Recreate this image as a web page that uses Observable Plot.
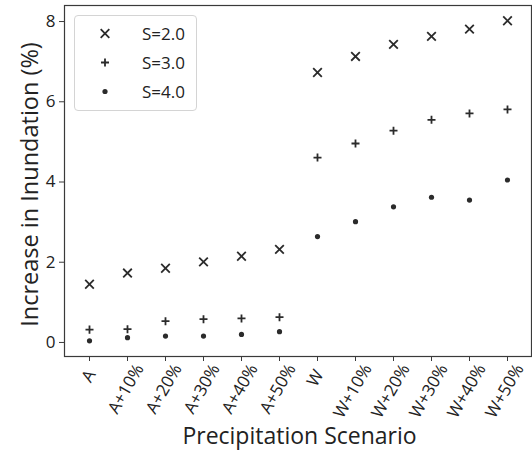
<!DOCTYPE html>
<html>
<head>
<meta charset="utf-8">
<script src="https://cdn.jsdelivr.net/npm/d3@7"></script>
<script src="https://cdn.jsdelivr.net/npm/@observablehq/plot@0.6"></script>
<style>
  html, body { margin: 0; padding: 0; background: #fff; }
  body { font-family: "Open Sans", sans-serif; }
  #wrap { position: relative; width: 532px; height: 456px; }
  #legend {
    position: absolute; left: 74px; top: 15px; width: 121px; height: 91px;
    border: 1px solid #d4d4d4; border-radius: 4px; background: rgba(255,255,255,0.85);
    padding-top: 3px; box-sizing: content-box;
  }
  #legend .row { display: flex; align-items: center; height: 29px; }
  #legend .row span { margin-left: 7px; font-size: 17px; color: #222; }
</style>
</head>
<body>
<div id="wrap"></div>
<script>
const scenarios = ["A","A+10%","A+20%","A+30%","A+40%","A+50%","W","W+10%","W+20%","W+30%","W+40%","W+50%"];
const seriesNames = ["S=2.0","S=3.0","S=4.0"];
const s2 = [1.45,1.73,1.85,2.01,2.15,2.32,6.73,7.13,7.43,7.63,7.81,8.02];
const s3 = [0.32,0.33,0.53,0.58,0.60,0.63,4.61,4.96,5.28,5.55,5.71,5.81];
const s4 = [0.04,0.12,0.16,0.16,0.20,0.27,2.64,3.01,3.38,3.62,3.55,4.05];
const yTicks = [0,2,4,6,8];
const xLabel = "Precipitation Scenario";
const yLabel = "Increase in Inundation (%)";

const ink = "#2b2b2b";
const toRows = (vals, name) => vals.map((v, i) => ({scenario: scenarios[i], value: v, series: name}));
const d2 = toRows(s2, seriesNames[0]);
const d3s = toRows(s3, seriesNames[1]);
const d4 = toRows(s4, seriesNames[2]);

const shortTicks = scenarios.filter(d => d.length === 1);
const longTicks = scenarios.filter(d => d.length > 1);

const chart = Plot.plot({
  width: 532,
  height: 456,
  marginLeft: 64,
  marginRight: 1,
  marginTop: 5,
  marginBottom: 100,
  style: {fontFamily: "Open Sans, sans-serif", color: "#222", background: "transparent"},
  x: {type: "point", domain: scenarios, padding: 0.5},
  y: {domain: [-0.35, 8.4]},
  marks: [
    Plot.frame({stroke: "#3a3a3a", strokeWidth: 1.2}),
    Plot.axisY({ticks: yTicks, tickSize: 5, tickPadding: 4, fontSize: 17, label: null, stroke: "#3a3a3a"}),
    Plot.axisX({ticks: scenarios, tickSize: 5, tickFormat: () => "", label: null, stroke: "#3a3a3a"}),
    Plot.axisX({ticks: longTicks, tickSize: 0, tickPadding: 9, tickRotate: -60, dx: 12, dy: 0, fontSize: 17, label: null}),
    Plot.axisX({ticks: shortTicks, tickSize: 0, tickPadding: 9, tickRotate: -60, dx: 2, dy: 6, fontSize: 17, label: null}),
    Plot.dot(d2, {x: "scenario", y: "value", symbol: "times", r: 4, stroke: ink, strokeWidth: 1.8, fill: "none"}),
    Plot.dot(d3s, {x: "scenario", y: "value", symbol: "plus", r: 2.7, stroke: ink, strokeWidth: 1.8, fill: "none"}),
    Plot.dot(d4, {x: "scenario", y: "value", symbol: "circle", r: 2.6, fill: ink, stroke: "none"}),
    Plot.text([yLabel], {frameAnchor: "left", textAnchor: "middle", rotate: -90, dx: -34, dy: 3.5, fontSize: 23.5, fill: "#222"}),
    Plot.text([xLabel], {frameAnchor: "bottom", textAnchor: "middle", dx: 1.5, dy: 87.5, fontSize: 23, fill: "#222"})
  ]
});

const wrap = document.getElementById("wrap");
wrap.appendChild(chart);

// legend overlay
const legend = document.createElement("div");
legend.id = "legend";
const legendSymbols = [
  {sym: d3.symbolTimes, r: 4, stroke: true},
  {sym: d3.symbolPlus, r: 2.7, stroke: true},
  {sym: d3.symbolCircle, r: 2.6, stroke: false}
];
seriesNames.forEach((name, i) => {
  const row = document.createElement("div");
  row.className = "row";
  const svg = d3.create("svg").attr("width", 60).attr("height", 29);
  const s = legendSymbols[i];
  svg.append("path")
    .attr("transform", "translate(30,14.5)")
    .attr("d", d3.symbol(s.sym, Math.PI * s.r * s.r)())
    .attr("fill", s.stroke ? "none" : ink)
    .attr("stroke", s.stroke ? ink : "none")
    .attr("stroke-width", 1.8);
  row.appendChild(svg.node());
  const t = document.createElement("span");
  t.textContent = name;
  row.appendChild(t);
  legend.appendChild(row);
});
wrap.appendChild(legend);
</script>
</body>
</html>
